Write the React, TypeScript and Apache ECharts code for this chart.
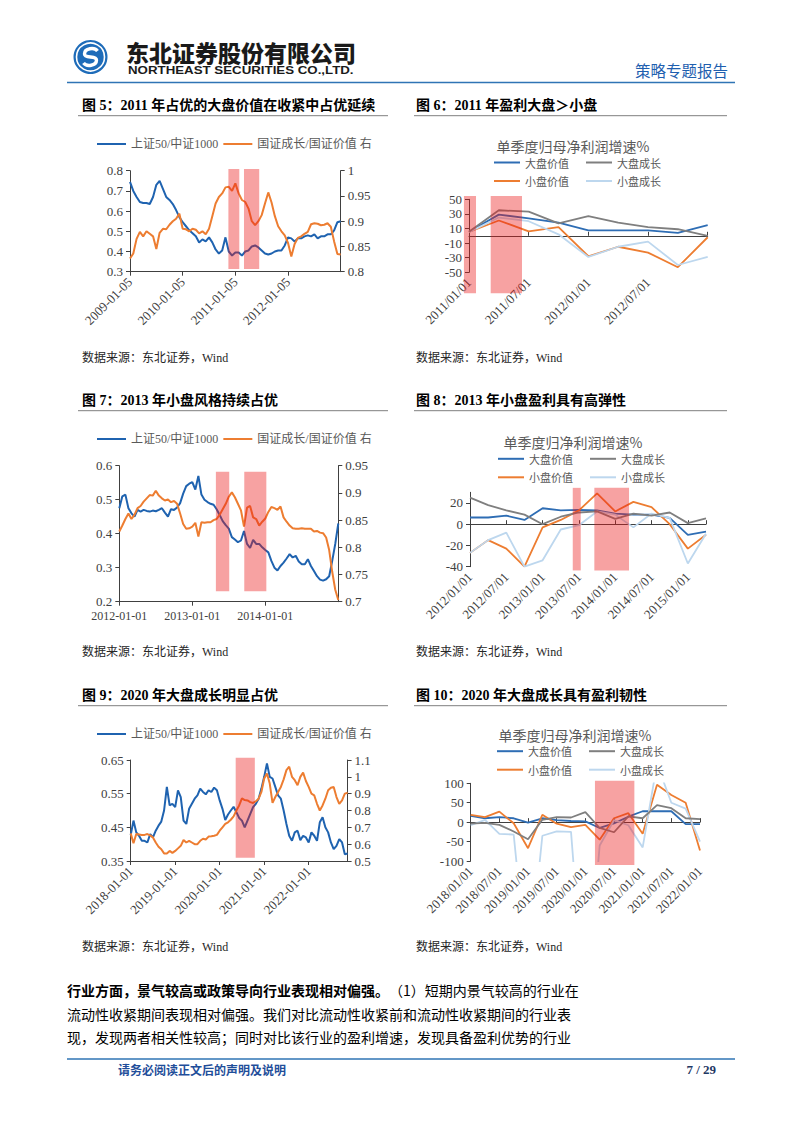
import React, { useEffect, useRef } from "react";
import * as echarts from "echarts";

/* ================= DATA ================= */
const L_BLUE = "上证50/中证1000";
const L_ORANGE = "国证成长/国证价值 右";
const R_NAMES = ["大盘价值", "大盘成长", "小盘价值", "小盘成长"];

/* Figure 5: x in years, 2009.0 = 2009-01-05, sampled every 1/16 year */
const F5_START = 2009;
const F5_STEP = 1 / 16;
const F5_TICK_SUFFIX = "-01-05";
const F5_SZ50_ZZ1000 = [
  0.745, 0.7, 0.67, 0.645, 0.64, 0.64, 0.635, 0.67, 0.73, 0.75,
  0.71, 0.67, 0.655, 0.635, 0.605, 0.57, 0.545, 0.525, 0.505, 0.49,
  0.475, 0.445, 0.46, 0.45, 0.47, 0.445, 0.41, 0.39, 0.405, 0.47,
  0.4, 0.38, 0.395, 0.395, 0.38, 0.4, 0.405, 0.425, 0.43, 0.42,
  0.405, 0.39, 0.385, 0.39, 0.4, 0.405, 0.405, 0.43, 0.47, 0.465,
  0.45, 0.465, 0.465, 0.475, 0.48, 0.475, 0.485, 0.465, 0.475, 0.475,
  0.485, 0.485, 0.505, 0.545, 0.55,
];
const F5_GROWTH_VALUE = [
  0.826, 0.836, 0.865, 0.879, 0.87, 0.88, 0.875, 0.87, 0.845, 0.877,
  0.885, 0.884, 0.893, 0.9, 0.905, 0.915, 0.885, 0.884, 0.88, 0.885,
  0.883, 0.876, 0.88, 0.874, 0.885, 0.91, 0.935, 0.948, 0.955, 0.967,
  0.968, 0.96, 0.975, 0.955, 0.942, 0.938, 0.925, 0.9, 0.892, 0.9,
  0.912, 0.935, 0.957, 0.937, 0.91, 0.89, 0.88, 0.872, 0.857, 0.83,
  0.855, 0.867, 0.87, 0.875, 0.879, 0.894, 0.896, 0.895, 0.892, 0.893,
  0.896, 0.889, 0.86, 0.835, 0.834,
];
const F5_SHADE = [[2010.868, 2011.075], [2011.164, 2011.453]];

/* Figure 6: quarterly */
const F6_DATES = ["2011/01/01", "2011/04/01", "2011/07/01", "2011/10/01", "2012/01/01", "2012/04/01", "2012/07/01", "2012/10/01", "2013/01/01"];
const F6_LARGE_VALUE = [5.5, 29, 24, 18, 7.5, 7.5, 7.5, 4, 14.5];
const F6_LARGE_GROWTH = [5.5, 35, 33, 17, 27, 18, 12, 9, 0];
const F6_SMALL_VALUE = [5.5, 21, 6, 12, -28, -15, -23, -43, -2];
const F6_SMALL_GROWTH = [5, 25, 20, 2, -29, -15, -8, -40, -29];
const F6_SHADE = [[-0.17, 0.235], [0.727, 1.776]];

/* Figure 7: x in years, 2012.0 = 2012-01-01, sampled every 1/24 year */
const F7_START = 2012;
const F7_STEP = 1 / 24;
const F7_TICK_SUFFIX = "-01-01";
const F7_SZ50_ZZ1000 = [
  0.475, 0.51, 0.515, 0.475, 0.46, 0.45, 0.47, 0.465, 0.47, 0.467,
  0.465, 0.468, 0.466, 0.47, 0.475, 0.462, 0.45, 0.472, 0.47, 0.477,
  0.49, 0.518, 0.54, 0.547, 0.552, 0.53, 0.57, 0.515, 0.5, 0.493,
  0.488, 0.485, 0.472, 0.455, 0.437, 0.425, 0.415, 0.39, 0.383, 0.375,
  0.38, 0.408, 0.37, 0.358, 0.382, 0.37, 0.37, 0.36, 0.352, 0.345,
  0.32, 0.3, 0.292, 0.305, 0.315, 0.327, 0.34, 0.33, 0.335, 0.318,
  0.31, 0.31, 0.325, 0.305, 0.29, 0.275, 0.265, 0.262, 0.266, 0.275,
  0.32, 0.37, 0.43,
];
const F7_GROWTH_VALUE = [
  0.829, 0.84, 0.852, 0.862, 0.852, 0.86, 0.872, 0.876, 0.884, 0.89,
  0.896, 0.895, 0.904, 0.895, 0.89, 0.886, 0.888, 0.883, 0.885, 0.88,
  0.862, 0.843, 0.834, 0.835, 0.838, 0.845, 0.82, 0.846, 0.845, 0.846,
  0.846, 0.85, 0.852, 0.86, 0.87, 0.88, 0.893, 0.901, 0.892, 0.88,
  0.868, 0.838, 0.873, 0.876, 0.855, 0.852, 0.84, 0.847, 0.853, 0.865,
  0.874, 0.872, 0.869, 0.875, 0.855, 0.847, 0.84, 0.835, 0.834, 0.834,
  0.835, 0.834, 0.834, 0.834, 0.829, 0.83, 0.827, 0.826, 0.818, 0.795,
  0.755, 0.722, 0.703,
];
const F7_SHADE = [[2013.323, 2013.506], [2013.712, 2014.014]];

/* Figure 8: quarterly */
const F8_DATES = ["2012/01/01", "2012/04/01", "2012/07/01", "2012/10/01", "2013/01/01", "2013/04/01", "2013/07/01", "2013/10/01", "2014/01/01", "2014/04/01", "2014/07/01", "2014/10/01", "2015/01/01", "2015/04/01"];
const F8_LARGE_VALUE = [6.3, 6.3, 8, 4, 15, 13, 13.5, 13, 10, 9, 9, 6, -10, -7];
const F8_LARGE_GROWTH = [25, 18, 13, 9, 0, 7, 11, 12, 5, 10, 8, 11, 1, 5.5];
const F8_SMALL_VALUE = [-27, -15, -23, -40, -3, 4, 13, 29, 12, 21, 16, 0, -23, -10];
const F8_SMALL_GROWTH = [-27, -15, -8, -40, -34, -5, -1, 12, 9, -3, 10, 6, -37, -9];
const F8_SHADE = [[5.66, 6.1], [6.85, 8.76]];

/* Figure 9: x in years, 2018.0 = 2018-01-01, sampled every 1/16 year */
const F9_START = 2018;
const F9_STEP = 1 / 16;
const F9_TICK_SUFFIX = "-01-01";
const F9_SZ50_ZZ1000 = [
  0.427, 0.47, 0.435, 0.425, 0.41, 0.41, 0.405, 0.43, 0.42, 0.44,
  0.455, 0.467, 0.5, 0.57, 0.515, 0.52, 0.51, 0.56, 0.54, 0.47,
  0.46, 0.505, 0.52, 0.535, 0.545, 0.565, 0.555, 0.548, 0.56, 0.555,
  0.568, 0.56, 0.53, 0.505, 0.472, 0.488, 0.5, 0.511, 0.495, 0.478,
  0.47, 0.45, 0.47, 0.49, 0.51, 0.52, 0.535, 0.565, 0.6, 0.64,
  0.6, 0.595, 0.57, 0.545, 0.535, 0.5, 0.46, 0.425, 0.41, 0.435,
  0.44, 0.412, 0.425, 0.42, 0.405, 0.435, 0.425, 0.41, 0.465, 0.48,
  0.45, 0.435, 0.405, 0.385, 0.395, 0.415, 0.405, 0.37, 0.372,
];
const F9_GROWTH_VALUE = [
  0.664, 0.605, 0.66, 0.658, 0.655, 0.655, 0.66, 0.652, 0.64, 0.61,
  0.585, 0.57, 0.545, 0.545, 0.56, 0.548, 0.56, 0.575, 0.59, 0.625,
  0.61, 0.62, 0.61, 0.6, 0.6, 0.62, 0.632, 0.628, 0.645, 0.647,
  0.65, 0.655, 0.68, 0.7, 0.72, 0.73, 0.745, 0.765, 0.8, 0.83,
  0.872, 0.862, 0.86, 0.85, 0.845, 0.855, 0.87, 0.91, 0.99, 1.02,
  0.96, 0.845, 0.88, 0.91, 0.94, 0.985, 1.04, 1.06, 1.0, 0.98,
  0.95, 1.0, 1.025, 0.975, 0.94, 0.9, 0.89, 0.84, 0.8, 0.83,
  0.87, 0.92, 0.935, 0.94, 0.88, 0.84, 0.86, 0.9, 0.905,
];
const F9_SHADE = [[2020.36, 2020.79]];

/* Figure 10: quarterly */
const F10_DATES = ["2018/01/01", "2018/04/01", "2018/07/01", "2018/10/01", "2019/01/01", "2019/04/01", "2019/07/01", "2019/10/01", "2020/01/01", "2020/04/01", "2020/07/01", "2020/10/01", "2021/01/01", "2021/04/01", "2021/07/01", "2021/10/01", "2022/01/01"];
const F10_LARGE_VALUE = [16, 10, 13, 10, -1, 10, 5, 3, 2, -15, -3, 14, 28, 28, 28, -5, -5];
const F10_LARGE_GROWTH = [-4, -2, -7, -24, -44, 6, 13, 12, 26, -15, -26, 15, 10, 44, 36, 10, 8];
const F10_SMALL_VALUE = [19, 13, 27, -3, -67, 19, -4, -13, -7, -45, 10, 23, -30, 96, 70, 50, -73];
const F10_SMALL_GROWTH = [-8, 6, -30, -32, -400, -35, -24, -25, -500, -60, 5, -8, -65, 150, 50, 35, -50];
const F10_SHADE = [[8.67, 11.42]];

/* ================= STYLE ================= */
const SERIF = "'Liberation Serif', 'Times New Roman', 'Noto Sans CJK SC', serif";
const CJK = "'Noto Sans CJK SC', sans-serif";
const AX = "#404040";
const TXT = "#595959";
const SHADE = "rgba(235, 22, 22, 0.4)";
const C_BLUE = "#1F63B0";
const C_ORANGE = "#ED7D31";
const R_COLORS = ["#2E6DB4", "#7F7F7F", "#ED7D31", "#BDD7EE"];
const HEADER_BLUE = "#2F74B5";

echarts.graphic.registerShape(
  "nesLogo",
  echarts.graphic.extendPath("M 7 -6 C 4 -10 -6 -9 -6 -3 C -6 2 6 -2 6 3 C 6 9 -4 10 -7 6", {})
);

function fmtNum(v: number) {
  return String(parseFloat(v.toFixed(4)));
}

function dataAxis(gi: number, pos: string, min: number, max: number) {
  return { type: "value", gridIndex: gi, position: pos, min, max, show: false, splitLine: { show: false } };
}

function labelAxis(gi: number, pos: string, min: number, max: number, interval: number, extra: any = {}) {
  return {
    type: "value",
    gridIndex: gi,
    position: pos,
    min: 0,
    max: max - min,
    interval,
    axisLine: { show: true, onZero: false, lineStyle: { color: AX, width: 1 } },
    axisTick: { show: true, length: 4, lineStyle: { color: AX } },
    axisLabel: { fontSize: 13, color: AX, fontFamily: SERIF, margin: 7, formatter: (v: number) => fmtNum(v + min), ...extra },
    splitLine: { show: false },
  };
}

const shadeRender = (_p: any, api: any) => {
  const p0 = api.coord([api.value(0), api.value(2)]);
  const p1 = api.coord([api.value(1), api.value(3)]);
  return {
    type: "rect",
    shape: { x: p0[0], y: p1[1], width: p1[0] - p0[0], height: p0[1] - p1[1] },
    style: { fill: SHADE },
  };
};

function leftChart(o: any, c: any) {
  const gi = o.grid.length;
  o.grid.push({ left: c.left, top: c.top, width: c.width, height: c.height });
  const xi = o.xAxis.length;
  o.xAxis.push({
    type: "value",
    gridIndex: gi,
    min: c.xMin,
    max: c.xMax,
    interval: 1,
    axisLine: { show: true, onZero: false, lineStyle: { color: AX, width: 1 } },
    axisTick: { show: true, length: 4, lineStyle: { color: AX } },
    axisLabel: {
      rotate: c.rotate,
      margin: 8,
      fontSize: c.xFont,
      color: AX,
      fontFamily: SERIF,
      showMaxLabel: false,
      formatter: (v: number) => `${Math.round(v)}${c.suffix}`,
    },
    splitLine: { show: false },
  });
  const yi = o.yAxis.length;
  o.yAxis.push(dataAxis(gi, "left", c.yL[0], c.yL[1]));
  o.yAxis.push(dataAxis(gi, "right", c.yR[0], c.yR[1]));
  o.yAxis.push(labelAxis(gi, "left", c.yL[0], c.yL[1], c.yL[2]));
  o.yAxis.push(labelAxis(gi, "right", c.yR[0], c.yR[1], c.yR[2]));
  const mk = (vals: number[]) => vals.map((v, i) => [c.start + i * c.step, v]);
  o.series.push({
    type: "line", name: L_BLUE, xAxisIndex: xi, yAxisIndex: yi, data: mk(c.blue),
    showSymbol: false, symbol: "none", lineStyle: { width: 2, color: C_BLUE }, itemStyle: { color: C_BLUE }, z: 2,
  });
  o.series.push({
    type: "line", name: L_ORANGE, xAxisIndex: xi, yAxisIndex: yi + 1, data: mk(c.orange),
    showSymbol: false, symbol: "none", lineStyle: { width: 2, color: C_ORANGE }, itemStyle: { color: C_ORANGE }, z: 3,
  });
  o.series.push({
    type: "custom", xAxisIndex: xi, yAxisIndex: yi, clip: false, silent: true, z: 6,
    data: c.shade.map((s: number[]) => [s[0], s[1], c.shadeY[0], c.shadeY[1]]),
    encode: { x: [0, 1], y: [2, 3] },
    renderItem: shadeRender,
  });
  o.legend.push({
    left: c.legendLeft, top: c.legendTop, data: [L_BLUE, L_ORANGE], icon: "rect",
    itemWidth: 29, itemHeight: 2, itemGap: 5, padding: 0, selectedMode: false,
    textStyle: { fontSize: 12, color: TXT, fontFamily: SERIF },
  });
}

function rightChart(o: any, c: any) {
  const gi = o.grid.length;
  const n = c.dates.length;
  o.grid.push({ left: c.left, top: c.top, width: c.width, height: c.height });
  const yd = o.yAxis.length;
  o.yAxis.push(dataAxis(gi, "left", c.y[0], c.y[1]));
  o.yAxis.push(labelAxis(gi, "left", c.y[0], c.y[1], c.y[2], { showMaxLabel: c.showMaxY }));
  const xa = o.xAxis.length;
  o.xAxis.push({
    type: "value", gridIndex: gi, min: 0, max: n - 1, interval: 2, position: "bottom",
    axisLine: { show: false, onZero: false }, axisTick: { show: false },
    axisLabel: {
      rotate: 45, margin: 8, fontSize: 13, color: AX, fontFamily: SERIF, showMaxLabel: c.showLastX,
      formatter: (v: number) => {
        const k = Math.round(v);
        return k % 2 === 0 && c.dates[k] ? c.dates[k] : "";
      },
    },
    splitLine: { show: false },
  });
  o.xAxis.push({
    type: "value", gridIndex: gi, min: 0, max: n - 1, interval: 2,
    axisLine: { show: true, onZero: true, onZeroAxisIndex: yd, lineStyle: { color: AX, width: 1 } },
    axisTick: { show: true, length: 4, lineStyle: { color: AX } },
    axisLabel: { show: false },
    splitLine: { show: false },
  });
  c.series.forEach((vals: number[], k: number) => {
    o.series.push({
      type: "line", name: R_NAMES[k], xAxisIndex: xa, yAxisIndex: yd,
      data: vals.map((v, i) => [i, v]), showSymbol: false, symbol: "none",
      lineStyle: { width: 1.8, color: R_COLORS[k] }, itemStyle: { color: R_COLORS[k] }, z: 2 + (k === 1 ? 1 : 0),
    });
  });
  o.series.push({
    type: "custom", xAxisIndex: xa, yAxisIndex: yd, clip: false, silent: true, z: 6,
    data: c.shade.map((s: number[]) => [s[0], s[1], c.shadeY[0], c.shadeY[1]]),
    encode: { x: [0, 1], y: [2, 3] },
    renderItem: shadeRender,
  });
  const lg = (data: string[], top: number) => ({
    left: c.legendLeft, top, data, icon: "rect", itemWidth: 26, itemHeight: 2, itemGap: 17,
    padding: 0, selectedMode: false, textStyle: { fontSize: 11, color: TXT, fontFamily: CJK },
  });
  o.legend.push(lg([R_NAMES[0], R_NAMES[1]], c.legendTop));
  o.legend.push(lg([R_NAMES[2], R_NAMES[3]], c.legendTop + 18.5));
  o.graphic.push(txt(c.title, c.titleX, c.titleY, { fontSize: 14, fill: TXT, fontFamily: CJK, align: "center" }));
}

function txt(text: string, x: number, y: number, s: any = {}) {
  const align = s.align || "left";
  const st: any = {
    text, fontSize: 13, fill: "#000", fontFamily: SERIF, ...s,
    align, textAlign: align, verticalAlign: "middle", textVerticalAlign: "middle",
  };
  return { type: "text", x, y, silent: true, style: st };
}

function hline(x1: number, x2: number, y: number, stroke: string, w: number) {
  return { type: "line", silent: true, shape: { x1, y1: y, x2, y2: y }, style: { stroke, lineWidth: w } };
}

function buildOption() {
  const o: any = { animation: false, textStyle: { fontFamily: SERIF }, grid: [], xAxis: [], yAxis: [], series: [], legend: [], graphic: [] };

  // ----- header -----
  o.graphic.push({ type: "circle", silent: true, shape: { cx: 90.5, cy: 57, r: 17 }, style: { fill: "#1E6CB9" } });
  o.graphic.push({ type: "circle", silent: true, shape: { cx: 90.5, cy: 57, r: 14 }, style: { fill: "none", stroke: "#fff", lineWidth: 1.6 } });
  o.graphic.push({ type: "nesLogo", silent: true, x: 90.5, y: 57, scaleX: 1, scaleY: 1, style: { fill: "none", stroke: "#fff", lineWidth: 3.4 } });
  o.graphic.push(txt("东北证券股份有限公司", 126, 52, { fontSize: 23, fontWeight: 900, fill: "#1A1A1A", fontFamily: CJK }));
  o.graphic.push({
    type: "text", silent: true, x: 128, y: 70.5, scaleX: 1.33, scaleY: 1,
    style: { text: "NORTHEAST SECURITIES CO.,LTD.", fontSize: 10, fontWeight: "bold", fill: "#1A1A1A", fontFamily: "'Liberation Sans', Arial, sans-serif", verticalAlign: "middle", textVerticalAlign: "middle" },
  });
  o.graphic.push(txt("策略专题报告", 728, 70, { fontSize: 15.5, fill: "#1F5FAF", fontFamily: CJK, align: "right" }));
  o.graphic.push(hline(67, 735, 82.5, HEADER_BLUE, 1.5));

  // ----- section titles, underlines, sources -----
  const rows = [0, 295, 590];
  const titles = [
    ["图 5：2011 年占优的大盘价值在收紧中占优延续", "图 6：2011 年盈利大盘＞小盘"],
    ["图 7：2013 年小盘风格持续占优", "图 8：2013 年小盘盈利具有高弹性"],
    ["图 9：2020 年大盘成长明显占优", "图 10：2020 年大盘成长具有盈利韧性"],
  ];
  rows.forEach((dy, r) => {
    o.graphic.push(txt(titles[r][0], 82, 105 + dy, { fontSize: 14, fontWeight: "bold" }));
    o.graphic.push(txt(titles[r][1], 416, 105 + dy, { fontSize: 14, fontWeight: "bold" }));
    o.graphic.push(hline(78, 388, 115.7 + dy, "#7F7F7F", 1));
    o.graphic.push(hline(414, 727, 115.7 + dy, "#7F7F7F", 1));
    o.graphic.push(txt("数据来源：东北证券，Wind", 82, 358 + dy * 0.998, { fontSize: 12, fill: "#262626" }));
    o.graphic.push(txt("数据来源：东北证券，Wind", 416, 358 + dy * 0.998, { fontSize: 12, fill: "#262626" }));
  });

  // ----- Figure 5 -----
  leftChart(o, {
    left: 130, top: 170.7, width: 210.7, height: 101, xMin: 2009, xMax: 2013, rotate: 45, xFont: 13, suffix: F5_TICK_SUFFIX,
    yL: [0.3, 0.8, 0.1], yR: [0.8, 1, 0.05], start: F5_START, step: F5_STEP,
    blue: F5_SZ50_ZZ1000, orange: F5_GROWTH_VALUE, shade: F5_SHADE, shadeY: [0.313, 0.808],
    legendLeft: 97, legendTop: 138,
  });
  // ----- Figure 6 -----
  rightChart(o, {
    left: 469, top: 199.3, width: 238.7, height: 73, y: [-50, 50, 20], showMaxY: true, showLastX: false,
    dates: F6_DATES, series: [F6_LARGE_VALUE, F6_LARGE_GROWTH, F6_SMALL_VALUE, F6_SMALL_GROWTH],
    shade: F6_SHADE, shadeY: [-78.8, 54.5], legendLeft: 494, legendTop: 157,
    title: "单季度归母净利润增速%", titleX: 573, titleY: 146,
  });
  // ----- Figure 7 -----
  leftChart(o, {
    left: 119.3, top: 465.7, width: 219, height: 136, xMin: 2012, xMax: 2015, rotate: 0, xFont: 12, suffix: F7_TICK_SUFFIX,
    yL: [0.2, 0.6, 0.1], yR: [0.7, 0.95, 0.05], start: F7_START, step: F7_STEP,
    blue: F7_SZ50_ZZ1000, orange: F7_GROWTH_VALUE, shade: F7_SHADE, shadeY: [0.231, 0.582],
    legendLeft: 97, legendTop: 433,
  });
  // ----- Figure 8 -----
  rightChart(o, {
    left: 470, top: 492.3, width: 236, height: 74.4, y: [-40, 30, 20], showMaxY: false, showLastX: false,
    dates: F8_DATES, series: [F8_LARGE_VALUE, F8_LARGE_GROWTH, F8_SMALL_VALUE, F8_SMALL_GROWTH],
    shade: F8_SHADE, shadeY: [-43.5, 34.2], legendLeft: 498, legendTop: 453.3,
    title: "单季度归净利润增速%", titleX: 573, titleY: 441.7,
  });
  // ----- Figure 9 -----
  leftChart(o, {
    left: 130.7, top: 760, width: 216.9, height: 101, xMin: 2018, xMax: 2022.875, rotate: 45, xFont: 13, suffix: F9_TICK_SUFFIX,
    yL: [0.35, 0.65, 0.1], yR: [0.5, 1.1, 0.1], start: F9_START, step: F9_STEP,
    blue: F9_SZ50_ZZ1000, orange: F9_GROWTH_VALUE, shade: F9_SHADE, shadeY: [0.36, 0.657],
    legendLeft: 97, legendTop: 728,
  });
  // ----- Figure 10 -----
  rightChart(o, {
    left: 470.7, top: 783.3, width: 229.3, height: 77.7, y: [-100, 100, 50], showMaxY: true, showLastX: true,
    dates: F10_DATES, series: [F10_LARGE_VALUE, F10_LARGE_GROWTH, F10_SMALL_VALUE, F10_SMALL_GROWTH],
    shade: F10_SHADE, shadeY: [-110, 106.7], legendLeft: 497, legendTop: 745.7,
    title: "单季度归母净利润增速%", titleX: 575, titleY: 735,
  });

  // ----- body text -----
  o.graphic.push({
    type: "text", silent: true, x: 67, y: 990,
    style: {
      text: "{b|行业方面，景气较高或政策导向行业表现相对偏强。}{r|（1）短期内景气较高的行业在}",
      verticalAlign: "middle", textVerticalAlign: "middle",
      rich: {
        b: { fontSize: 14, fontWeight: "bold", fill: "#000", fontFamily: CJK },
        r: { fontSize: 14, fill: "#000", fontFamily: CJK },
      },
    },
  });
  o.graphic.push(txt("流动性收紧期间表现相对偏强。我们对比流动性收紧前和流动性收紧期间的行业表", 67, 1014, { fontSize: 14, fontFamily: CJK }));
  o.graphic.push(txt("现，发现两者相关性较高；同时对比该行业的盈利增速，发现具备盈利优势的行业", 67, 1037, { fontSize: 14, fontFamily: CJK }));

  // ----- footer -----
  o.graphic.push(hline(67, 735, 1059, HEADER_BLUE, 1.5));
  o.graphic.push(txt("请务必阅读正文后的声明及说明", 118, 1069, { fontSize: 12, fontWeight: "bold", fill: "#1F4E9A", fontFamily: CJK }));
  o.graphic.push(txt("7 / 29", 716, 1069, { fontSize: 13, fontWeight: "bold", fill: "#1F3864", align: "right" }));

  return o;
}

export default function App() {
  const ref = useRef<HTMLDivElement>(null);
  useEffect(() => {
    if (!ref.current) return;
    const chart = echarts.init(ref.current, undefined, { renderer: "svg" });
    chart.setOption(buildOption());
    return () => chart.dispose();
  }, []);
  return (
    <div
      ref={ref}
      style={{ position: "absolute", left: 0, top: 0, width: 802, height: 1133, background: "#fff" }}
    />
  );
}
